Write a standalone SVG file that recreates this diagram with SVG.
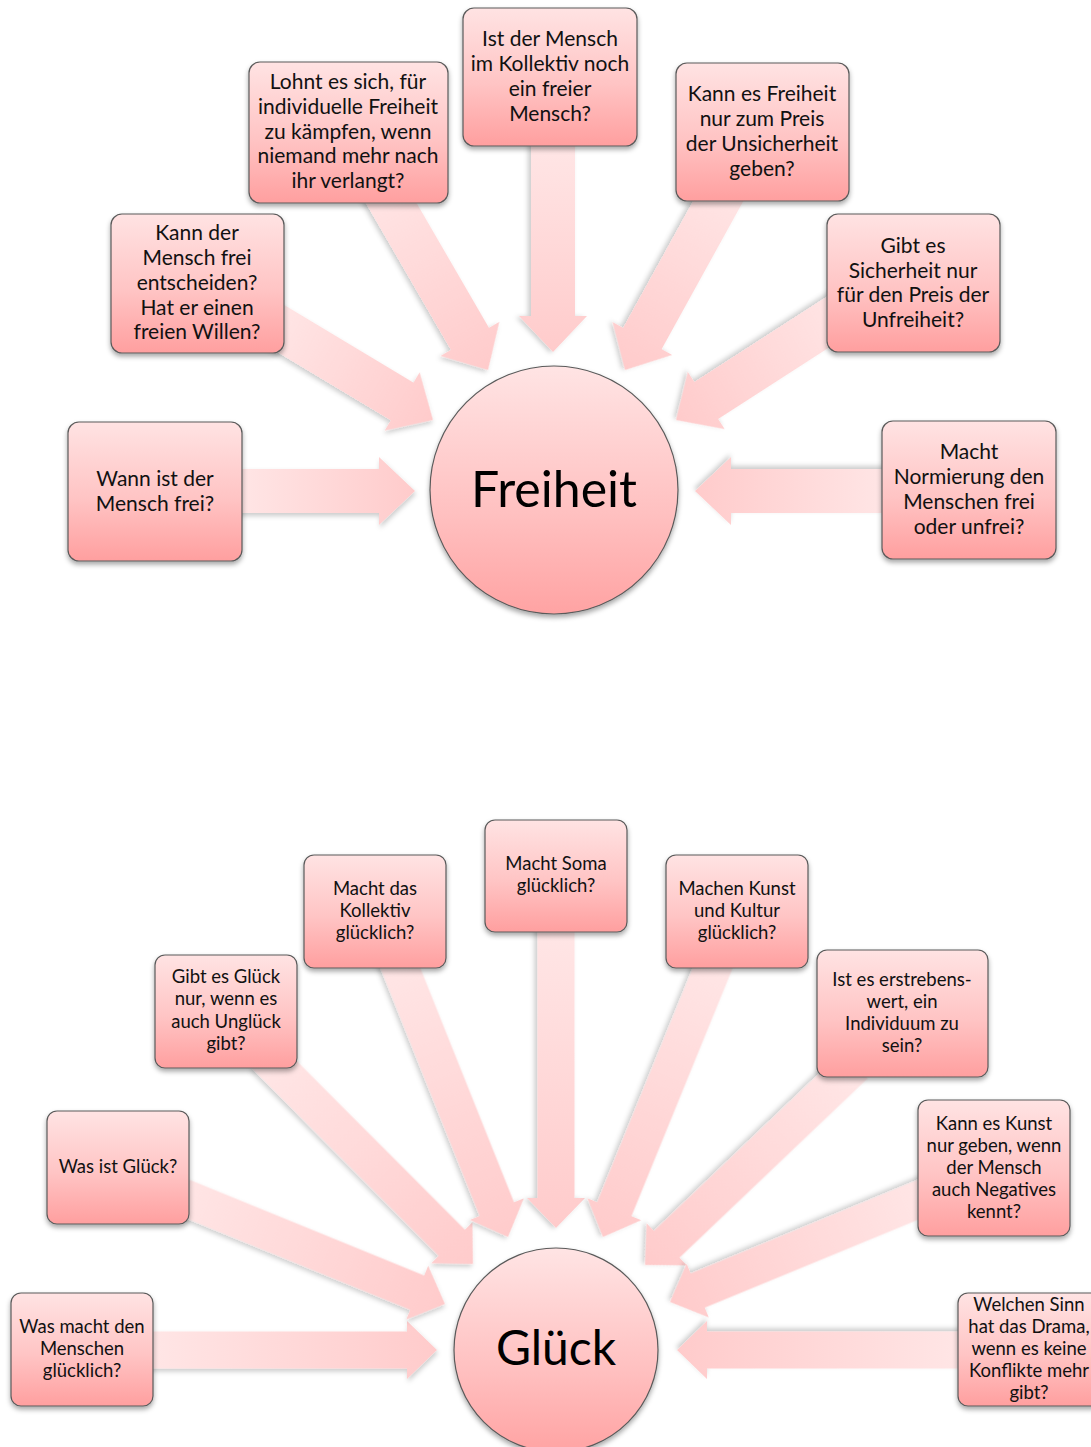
<svg xmlns="http://www.w3.org/2000/svg" width="1091" height="1447" viewBox="0 0 1091 1447">
<defs>
<linearGradient id="boxGrad" x1="0" y1="0" x2="0" y2="1">
<stop offset="0" stop-color="#ffe3e3"/>
<stop offset="0.55" stop-color="#ffc4c4"/>
<stop offset="1" stop-color="#ff9f9f"/>
</linearGradient>
<linearGradient id="circGrad" x1="0" y1="0" x2="0" y2="1">
<stop offset="0" stop-color="#ffe4e4"/>
<stop offset="0.6" stop-color="#ffc0c0"/>
<stop offset="1" stop-color="#ffa3a3"/>
</linearGradient>
<linearGradient id="arrGrad" x1="0" y1="0" x2="1" y2="0">
<stop offset="0" stop-color="#ffe6e6"/>
<stop offset="1" stop-color="#ffcbcb"/>
</linearGradient>
<filter id="shadow" x="-20%" y="-20%" width="140%" height="150%">
<feDropShadow dx="0" dy="3" stdDeviation="2.5" flood-color="#000" flood-opacity="0.35"/>
</filter>
<filter id="ashadow" x="-20%" y="-20%" width="140%" height="140%">
<feDropShadow dx="1" dy="3" stdDeviation="2.5" flood-color="#000" flood-opacity="0.2"/>
</filter>
</defs>
<style>
.box{fill:url(#boxGrad);stroke:#5a5a5a;stroke-width:1.2;filter:url(#shadow)}
.circ{fill:url(#circGrad);stroke:#5a5a5a;stroke-width:1.2;filter:url(#shadow)}
.arr{fill:url(#arrGrad);filter:url(#ashadow)}
.t{font-family:Lato,"Liberation Sans",sans-serif;font-size:21px;fill:#111;text-anchor:middle}
.s{font-family:Lato,"Liberation Sans",sans-serif;font-size:18.5px;fill:#111;text-anchor:middle}
.big{font-family:Lato,"Liberation Sans",sans-serif;font-size:50px;fill:#000;text-anchor:middle}
.bg{font-family:Lato,"Liberation Sans",sans-serif;font-size:48px;fill:#000;text-anchor:middle}
</style>
<rect width="1091" height="1447" fill="#fff"/>

<g id="connectors">
<path class="arr" transform="translate(415,491) rotate(0)" d="M-180,-22H-36V-34L0,0L-36,34V22H-180Z"/>
<path class="arr" transform="translate(433,420) rotate(31)" d="M-190,-22H-36V-34L0,0L-36,34V22H-190Z"/>
<path class="arr" transform="translate(488,370) rotate(59.9)" d="M-225,-22H-36V-34L0,0L-36,34V22H-225Z"/>
<path class="arr" transform="translate(553,352) rotate(90)" d="M-212,-22H-36V-34L0,0L-36,34V22H-212Z"/>
<path class="arr" transform="translate(625,370) rotate(118.9)" d="M-217,-22H-36V-34L0,0L-36,34V22H-217Z"/>
<path class="arr" transform="translate(676,420) rotate(147.2)" d="M-207,-22H-36V-34L0,0L-36,34V22H-207Z"/>
<path class="arr" transform="translate(695,491) rotate(180)" d="M-195,-22H-36V-34L0,0L-36,34V22H-195Z"/>
<path class="arr" transform="translate(437,1350) rotate(0)" d="M-292,-18.5H-30V-29L0,0L-30,29V18.5H-292Z"/>
<path class="arr" transform="translate(445,1304) rotate(22.2)" d="M-297,-18.5H-30V-29L0,0L-30,29V18.5H-297Z"/>
<path class="arr" transform="translate(473,1264) rotate(45.1)" d="M-295,-18.5H-30V-29L0,0L-30,29V18.5H-295Z"/>
<path class="arr" transform="translate(508,1237) rotate(68.2)" d="M-304,-18.5H-30V-29L0,0L-30,29V18.5H-304Z"/>
<path class="arr" transform="translate(556,1228) rotate(90)" d="M-303,-18.5H-30V-29L0,0L-30,29V18.5H-303Z"/>
<path class="arr" transform="translate(603,1237) rotate(112.2)" d="M-304,-18.5H-30V-29L0,0L-30,29V18.5H-304Z"/>
<path class="arr" transform="translate(645,1265) rotate(136.4)" d="M-290,-18.5H-30V-29L0,0L-30,29V18.5H-290Z"/>
<path class="arr" transform="translate(670,1302) rotate(157.6)" d="M-281,-18.5H-30V-29L0,0L-30,29V18.5H-281Z"/>
<path class="arr" transform="translate(677,1350) rotate(180)" d="M-288,-18.5H-30V-29L0,0L-30,29V18.5H-288Z"/>
</g>

<g id="freiheit">
<circle class="circ" cx="554" cy="490" r="124"/>
<text class="big" x="554" y="507">Freiheit</text>
</g>

<g id="q1">
<rect class="box" x="68" y="422" width="174" height="139" rx="11"/>
<text class="t" x="155" y="486">Wann ist der</text>
<text class="t" x="155" y="511">Mensch frei?</text>
</g>
<g id="q2">
<rect class="box" x="111" y="214" width="173" height="139" rx="11"/>
<text class="t" x="197" y="240">Kann der</text>
<text class="t" x="197" y="265">Mensch frei</text>
<text class="t" x="197" y="290">entscheiden?</text>
<text class="t" x="197" y="315">Hat er einen</text>
<text class="t" x="197" y="339">freien Willen?</text>
</g>
<g id="q3">
<rect class="box" x="249" y="62" width="199" height="141" rx="11"/>
<text class="t" x="348" y="89">Lohnt es sich, für</text>
<text class="t" x="348" y="114">individuelle Freiheit</text>
<text class="t" x="348" y="139">zu kämpfen, wenn</text>
<text class="t" x="348" y="163">niemand mehr nach</text>
<text class="t" x="348" y="188">ihr verlangt?</text>
</g>
<g id="q4">
<rect class="box" x="463" y="8" width="174" height="138" rx="11"/>
<text class="t" x="550" y="46">Ist der Mensch</text>
<text class="t" x="550" y="71">im Kollektiv noch</text>
<text class="t" x="550" y="96">ein freier</text>
<text class="t" x="550" y="121">Mensch?</text>
</g>
<g id="q5">
<rect class="box" x="676" y="63" width="173" height="138" rx="11"/>
<text class="t" x="762" y="101">Kann es Freiheit</text>
<text class="t" x="762" y="126">nur zum Preis</text>
<text class="t" x="762" y="151">der Unsicherheit</text>
<text class="t" x="762" y="176">geben?</text>
</g>
<g id="q6">
<rect class="box" x="827" y="214" width="173" height="138" rx="11"/>
<text class="t" x="913" y="253">Gibt es</text>
<text class="t" x="913" y="278">Sicherheit nur</text>
<text class="t" x="913" y="302">für den Preis der</text>
<text class="t" x="913" y="327">Unfreiheit?</text>
</g>
<g id="q7">
<rect class="box" x="882" y="421" width="174" height="138" rx="11"/>
<text class="t" x="969" y="459">Macht</text>
<text class="t" x="969" y="484">Normierung den</text>
<text class="t" x="969" y="509">Menschen frei</text>
<text class="t" x="969" y="534">oder unfrei?</text>
</g>

<g id="glueck">
<circle class="circ" cx="556" cy="1350" r="102"/>
<text class="bg" x="556" y="1365">Glück</text>
</g>

<g id="g1">
<rect class="box" x="11" y="1293" width="142" height="113" rx="10"/>
<text class="s" x="82" y="1333">Was macht den</text>
<text class="s" x="82" y="1355">Menschen</text>
<text class="s" x="82" y="1377">glücklich?</text>
</g>
<g id="g2">
<rect class="box" x="47" y="1111" width="142" height="113" rx="10"/>
<text class="s" x="118" y="1173">Was ist Glück?</text>
</g>
<g id="g3">
<rect class="box" x="155" y="955" width="142" height="113" rx="10"/>
<text class="s" x="226" y="983">Gibt es Glück</text>
<text class="s" x="226" y="1005">nur, wenn es</text>
<text class="s" x="226" y="1028">auch Unglück</text>
<text class="s" x="226" y="1050">gibt?</text>
</g>
<g id="g4">
<rect class="box" x="304" y="855" width="142" height="113" rx="10"/>
<text class="s" x="375" y="895">Macht das</text>
<text class="s" x="375" y="917">Kollektiv</text>
<text class="s" x="375" y="939">glücklich?</text>
</g>
<g id="g5">
<rect class="box" x="485" y="820" width="142" height="112" rx="10"/>
<text class="s" x="556" y="870">Macht Soma</text>
<text class="s" x="556" y="892">glücklich?</text>
</g>
<g id="g6">
<rect class="box" x="666" y="855" width="142" height="113" rx="10"/>
<text class="s" x="737" y="895">Machen Kunst</text>
<text class="s" x="737" y="917">und Kultur</text>
<text class="s" x="737" y="939">glücklich?</text>
</g>
<g id="g7">
<rect class="box" x="817" y="950" width="171" height="127" rx="10"/>
<text class="s" x="902" y="986">Ist es erstrebens-</text>
<text class="s" x="902" y="1008">wert, ein</text>
<text class="s" x="902" y="1030">Individuum zu</text>
<text class="s" x="902" y="1052">sein?</text>
</g>
<g id="g8">
<rect class="box" x="918" y="1100" width="152" height="136" rx="10"/>
<text class="s" x="994" y="1130">Kann es Kunst</text>
<text class="s" x="994" y="1152">nur geben, wenn</text>
<text class="s" x="994" y="1174">der Mensch</text>
<text class="s" x="994" y="1196">auch Negatives</text>
<text class="s" x="994" y="1218">kennt?</text>
</g>
<g id="g9">
<rect class="box" x="958" y="1293" width="145" height="113" rx="10"/>
<text class="s" x="1029" y="1311">Welchen Sinn</text>
<text class="s" x="1029" y="1333">hat das Drama,</text>
<text class="s" x="1029" y="1355">wenn es keine</text>
<text class="s" x="1029" y="1377">Konflikte mehr</text>
<text class="s" x="1029" y="1399">gibt?</text>
</g>
</svg>
